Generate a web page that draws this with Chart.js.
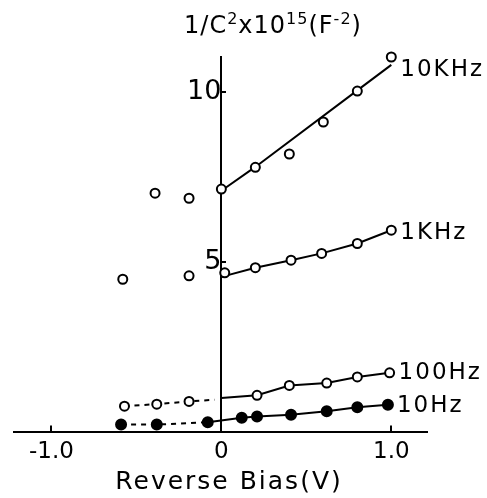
<!DOCTYPE html>
<html>
<head>
<meta charset="utf-8">
<script src="https://cdn.jsdelivr.net/npm/chart.js@4.4.0/dist/chart.umd.min.js"></script>
<style>
  html, body { margin: 0; padding: 0; background: #fff; }
</style>
</head>
<body>
<canvas id="cvChart" width="487" height="498"></canvas>
<script>
// measured points, 1/C^2 x 10^15 (F^-2) vs reverse bias (V)
const bias10k = [-0.39, -0.19, 0, 0.2, 0.4, 0.6, 0.8, 1.0];
const c10k = [7.03, 6.88, 7.15, 7.79, 8.18, 9.12, 10.03, 11.03];
const fitBias10k = [0, 0.2, 0.8, 1.0];
const fit10k = [7.1, 7.8, 10.05, 10.8];

const bias1k = [-0.58, -0.19, 0.02, 0.2, 0.41, 0.59, 0.8, 1.0];
const c1k = [4.5, 4.6, 4.69, 4.84, 5.06, 5.26, 5.55, 5.94];
const fitBias1k = [0, 0.2, 0.41, 0.59, 0.8, 1.0];
const fit1k = [4.57, 4.84, 5.06, 5.26, 5.55, 5.94];

const bias100 = [-0.57, -0.38, -0.19, 0.21, 0.4, 0.62, 0.8, 0.99];
const c100 = [0.77, 0.83, 0.91, 1.09, 1.38, 1.45, 1.63, 1.75];
const dashBias100 = [-0.57, -0.38, -0.19, -0.04];
const dash100 = [0.77, 0.83, 0.91, 0.96];
const fitBias100 = [0, 0.21, 0.4, 0.62, 0.8, 0.99];
const fit100 = [1.01, 1.09, 1.38, 1.45, 1.63, 1.75];

const bias10 = [-0.59, -0.38, -0.08, 0.12, 0.21, 0.41, 0.62, 0.8, 0.98];
const c10 = [0.23, 0.23, 0.3, 0.43, 0.47, 0.52, 0.62, 0.74, 0.81];
const dashBias10 = [-0.59, -0.38, -0.08];
const dash10 = [0.23, 0.23, 0.3];
const fitBias10 = [-0.08, 0.12, 0.21, 0.41, 0.62, 0.8, 0.98];
const fit10 = [0.3, 0.43, 0.47, 0.52, 0.62, 0.74, 0.81];

const seriesNames = ['10KHz', '1KHz', '100Hz', '10Hz'];
const xTicks = [-1, 0, 1];
const xTickLabels = ['-1.0', '0', '1.0'];
const yTicks = [5, 10];
const xTitle = 'Reverse Bias(V)';
// y title pieces: [text, superscript?]
const yTitle = [['1/C', false], ['2', true], ['x10', false], ['15', true], ['(F', false], ['-2', true], [')', false]];

const FONT = '"DejaVu Sans", sans-serif';

function pts(xs, ys) {
    return xs.map((x, i) => ({ x: x, y: ys[i] }));
}

function markers(xs, ys, filled) {
    return {
        data: pts(xs, ys),
        showLine: false,
        pointRadius: filled ? 5 : 4.5,
        pointBorderWidth: 2,
        pointBorderColor: '#000',
        pointBackgroundColor: filled ? '#000' : '#fff',
        clip: false,
        order: 0
    };
}

function line(xs, ys, dashed) {
    return {
        data: pts(xs, ys),
        showLine: true,
        pointRadius: 0,
        borderColor: '#000',
        borderWidth: 2,
        borderDash: dashed ? [5, 5] : [],
        tension: 0,
        clip: false,
        order: 1
    };
}

// curve labels, axis titles
const curveLabels = {
    id: 'curveLabels',
    afterDraw(chart) {
        const c = chart.ctx;
        const xs = chart.scales.x;
        const ys = chart.scales.y;
        const ends = [
            [bias10k[bias10k.length - 1], c10k[c10k.length - 1], 13],
            [bias1k[bias1k.length - 1], c1k[c1k.length - 1], 3],
            [bias100[bias100.length - 1], c100[c100.length - 1], 0],
            [bias10[bias10.length - 1], c10[c10.length - 1], 1]
        ];
        c.save();
        c.fillStyle = '#000';
        c.textBaseline = 'middle';
        c.textAlign = 'left';
        c.letterSpacing = '2px';
        c.font = '23px ' + FONT;
        ends.forEach((e, i) => {
            c.fillText(seriesNames[i], xs.getPixelForValue(e[0]) + 9, ys.getPixelForValue(e[1]) + e[2]);
        });

        // x title
        c.textAlign = 'center';
        c.letterSpacing = '2px';
        c.font = '25px ' + FONT;
        c.fillText(xTitle, 229, 482);

        // y title with raised exponents
        c.textAlign = 'left';
        c.textBaseline = 'alphabetic';
        c.letterSpacing = '1px';
        const mainFont = '24px ' + FONT;
        const supFont = '16px ' + FONT;
        let w = 0;
        yTitle.forEach(p => {
            c.font = p[1] ? supFont : mainFont;
            w += c.measureText(p[0]).width;
        });
        let x = 273 - w / 2;
        yTitle.forEach(p => {
            c.font = p[1] ? supFont : mainFont;
            c.fillText(p[0], x, p[1] ? 24 : 33);
            x += c.measureText(p[0]).width;
        });
        c.restore();
    }
};

new Chart(document.getElementById('cvChart'), {
    type: 'scatter',
    data: {
        datasets: [
            markers(bias10k, c10k, false),
            markers(bias1k, c1k, false),
            markers(bias100, c100, false),
            markers(bias10, c10, true),
            line(fitBias10k, fit10k, false),
            line(fitBias1k, fit1k, false),
            line(dashBias100, dash100, true),
            line(fitBias100, fit100, false),
            line(dashBias10, dash10, true),
            line(fitBias10, fit10, false)
        ]
    },
    options: {
        responsive: false,
        animation: false,
        layout: {
            padding: { left: 14, right: 60, top: 57, bottom: 19 }
        },
        plugins: {
            legend: { display: false },
            tooltip: { enabled: false }
        },
        scales: {
            x: {
                type: 'linear',
                position: 'bottom',
                min: -1.22,
                max: 1.21,
                afterBuildTicks: (axis) => {
                    axis.ticks = xTicks.map(v => ({ value: v }));
                },
                ticks: {
                    color: '#000',
                    padding: 13,
                    font: { family: FONT, size: 23 },
                    callback: (v) => xTickLabels[xTicks.indexOf(v)]
                },
                grid: {
                    display: true,
                    drawOnChartArea: false,
                    drawTicks: true,
                    tickLength: -7,
                    color: '#000',
                    lineWidth: 2
                },
                border: { display: true, color: '#000', width: 2 }
            },
            y: {
                type: 'linear',
                position: { x: 0 },
                min: 0,
                max: 11.03,
                afterBuildTicks: (axis) => {
                    axis.ticks = yTicks.map(v => ({ value: v }));
                },
                ticks: {
                    color: '#000',
                    padding: 4,
                    font: { family: FONT, size: 27 }
                },
                grid: {
                    display: true,
                    drawOnChartArea: false,
                    drawTicks: true,
                    tickLength: -6,
                    color: '#000',
                    lineWidth: 2
                },
                border: { display: true, color: '#000', width: 2 }
            }
        }
    },
    plugins: [curveLabels]
});
</script>
</body>
</html>
